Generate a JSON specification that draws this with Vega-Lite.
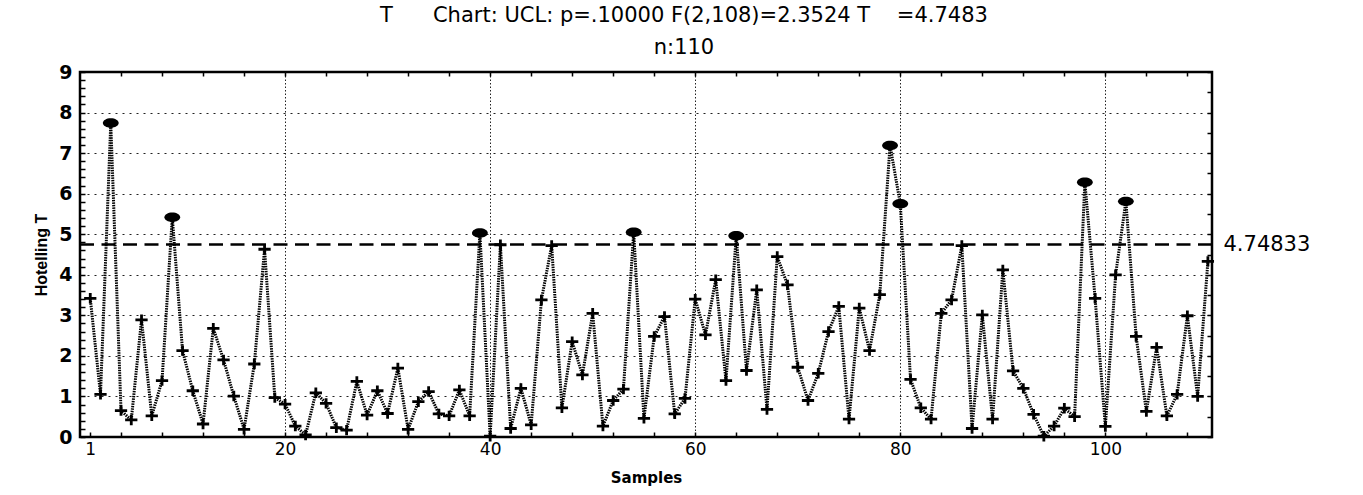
{
  "$schema": "https://vega.github.io/schema/vega-lite/v6.json",
  "width": 1132,
  "height": 365,
  "autosize": {"type": "none"},
  "padding": {"left": 80, "top": 72, "right": 151, "bottom": 58},
  "background": "white",
  "title": {
    "text": ["T\u00a0\u00a0\u00a0\u00a0\u00a0\u00a0Chart: UCL: p=.10000 F(2,108)=2.3524 T\u00a0\u00a0\u00a0\u00a0=4.7483", "n:110"],
    "font": "DejaVu Sans",
    "fontSize": 21,
    "fontWeight": "normal",
    "lineHeight": 32,
    "anchor": "middle",
    "dx": 38,
    "offset": 3,
    "color": "black"
  },
  "config": {
    "view": {"stroke": "black", "strokeWidth": 2.5},
    "axis": {"labelColor": "black", "titleColor": "black", "tickColor": "black"}
  },
  "datasets": {
    "t2": [
      {"sample": 1, "T2": 3.42}, {"sample": 2, "T2": 1.05}, {"sample": 3, "T2": 7.74}, {"sample": 4, "T2": 0.65}, {"sample": 5, "T2": 0.42},
      {"sample": 6, "T2": 2.89}, {"sample": 7, "T2": 0.52}, {"sample": 8, "T2": 1.39}, {"sample": 9, "T2": 5.42}, {"sample": 10, "T2": 2.13},
      {"sample": 11, "T2": 1.14}, {"sample": 12, "T2": 0.32}, {"sample": 13, "T2": 2.68}, {"sample": 14, "T2": 1.9}, {"sample": 15, "T2": 1.01},
      {"sample": 16, "T2": 0.19}, {"sample": 17, "T2": 1.8}, {"sample": 18, "T2": 4.63}, {"sample": 19, "T2": 0.97}, {"sample": 20, "T2": 0.81},
      {"sample": 21, "T2": 0.27}, {"sample": 22, "T2": 0.05}, {"sample": 23, "T2": 1.09}, {"sample": 24, "T2": 0.83}, {"sample": 25, "T2": 0.23},
      {"sample": 26, "T2": 0.17}, {"sample": 27, "T2": 1.37}, {"sample": 28, "T2": 0.54}, {"sample": 29, "T2": 1.14}, {"sample": 30, "T2": 0.58},
      {"sample": 31, "T2": 1.7}, {"sample": 32, "T2": 0.19}, {"sample": 33, "T2": 0.87}, {"sample": 34, "T2": 1.12}, {"sample": 35, "T2": 0.57},
      {"sample": 36, "T2": 0.52}, {"sample": 37, "T2": 1.16}, {"sample": 38, "T2": 0.52}, {"sample": 39, "T2": 5.03}, {"sample": 40, "T2": 0.02},
      {"sample": 41, "T2": 4.74}, {"sample": 42, "T2": 0.21}, {"sample": 43, "T2": 1.2}, {"sample": 44, "T2": 0.3}, {"sample": 45, "T2": 3.38},
      {"sample": 46, "T2": 4.72}, {"sample": 47, "T2": 0.72}, {"sample": 48, "T2": 2.35}, {"sample": 49, "T2": 1.53}, {"sample": 50, "T2": 3.05},
      {"sample": 51, "T2": 0.27}, {"sample": 52, "T2": 0.9}, {"sample": 53, "T2": 1.18}, {"sample": 54, "T2": 5.05}, {"sample": 55, "T2": 0.46},
      {"sample": 56, "T2": 2.48}, {"sample": 57, "T2": 2.97}, {"sample": 58, "T2": 0.57}, {"sample": 59, "T2": 0.95}, {"sample": 60, "T2": 3.4},
      {"sample": 61, "T2": 2.52}, {"sample": 62, "T2": 3.88}, {"sample": 63, "T2": 1.39}, {"sample": 64, "T2": 4.96}, {"sample": 65, "T2": 1.64},
      {"sample": 66, "T2": 3.63}, {"sample": 67, "T2": 0.68}, {"sample": 68, "T2": 4.45}, {"sample": 69, "T2": 3.75}, {"sample": 70, "T2": 1.72},
      {"sample": 71, "T2": 0.9}, {"sample": 72, "T2": 1.57}, {"sample": 73, "T2": 2.6}, {"sample": 74, "T2": 3.22}, {"sample": 75, "T2": 0.44},
      {"sample": 76, "T2": 3.18}, {"sample": 77, "T2": 2.13}, {"sample": 78, "T2": 3.51}, {"sample": 79, "T2": 7.19}, {"sample": 80, "T2": 5.75},
      {"sample": 81, "T2": 1.42}, {"sample": 82, "T2": 0.72}, {"sample": 83, "T2": 0.44}, {"sample": 84, "T2": 3.05}, {"sample": 85, "T2": 3.38},
      {"sample": 86, "T2": 4.72}, {"sample": 87, "T2": 0.21}, {"sample": 88, "T2": 3.01}, {"sample": 89, "T2": 0.44}, {"sample": 90, "T2": 4.12},
      {"sample": 91, "T2": 1.63}, {"sample": 92, "T2": 1.2}, {"sample": 93, "T2": 0.56}, {"sample": 94, "T2": 0.02}, {"sample": 95, "T2": 0.27},
      {"sample": 96, "T2": 0.71}, {"sample": 97, "T2": 0.5}, {"sample": 98, "T2": 6.28}, {"sample": 99, "T2": 3.42}, {"sample": 100, "T2": 0.26},
      {"sample": 101, "T2": 4.0}, {"sample": 102, "T2": 5.81}, {"sample": 103, "T2": 2.48}, {"sample": 104, "T2": 0.63}, {"sample": 105, "T2": 2.21},
      {"sample": 106, "T2": 0.52}, {"sample": 107, "T2": 1.05}, {"sample": 108, "T2": 2.99}, {"sample": 109, "T2": 1.0}, {"sample": 110, "T2": 4.33}
    ],
    "ucl": [{"UCL": 4.74833}]
  },
  "resolve": {"axis": {"x": "independent", "y": "independent"}},
  "layer": [
    {
      "data": {"name": "t2"},
      "mark": {"type": "line", "color": "black", "strokeWidth": 3, "strokeDash": [1.5, 1], "clip": true},
      "encoding": {
        "x": {
          "field": "sample", "type": "quantitative",
          "scale": {"domain": [0, 110.4], "nice": false, "zero": false},
          "axis": {
            "orient": "bottom",
            "values": [1, 4, 8, 12, 16, 20, 24, 28, 32, 36, 40, 44, 48, 52, 56, 60, 64, 68, 72, 76, 80, 84, 88, 92, 96, 100, 104, 108],
            "labelExpr": "datum.value === 1 || datum.value % 20 === 0 ? datum.label : ''",
            "labelOverlap": false,
            "labelFlush": false,
            "labelFont": "DejaVu Sans",
            "labelFontSize": 17,
            "labelPadding": 9,
            "tickSize": -5,
            "tickWidth": 1.5,
            "domain": false,
            "grid": true,
            "gridOpacity": {"condition": {"test": "datum.value % 20 === 0", "value": 1}, "value": 0},
            "gridDash": [1.5, 2],
            "gridColor": "#222",
            "gridWidth": 1,
            "title": "Samples",
            "titleFont": "DejaVu Sans",
            "titleFontSize": 15,
            "titleFontWeight": "bold",
            "titlePadding": 13
          }
        },
        "y": {
          "field": "T2", "type": "quantitative",
          "scale": {"domain": [0, 9], "nice": false, "zero": true},
          "axis": {
            "orient": "left",
            "values": [0, 0.2, 0.4, 0.6, 0.8, 1, 1.2, 1.4, 1.6, 1.8, 2, 2.2, 2.4, 2.6, 2.8, 3, 3.2, 3.4, 3.6, 3.8, 4, 4.2, 4.4, 4.6, 4.8, 5, 5.2, 5.4, 5.6, 5.8, 6, 6.2, 6.4, 6.6, 6.8, 7, 7.2, 7.4, 7.6, 7.8, 8, 8.2, 8.4, 8.6, 8.8, 9],
            "labelExpr": "datum.value % 1 === 0 ? format(datum.value, 'd') : ''",
            "labelOverlap": false,
            "labelFlush": false,
            "labelFont": "DejaVu Sans",
            "labelFontWeight": "bold",
            "labelFontSize": 19,
            "labelPadding": 13,
            "tickSize": -5,
            "tickWidth": 1.5,
            "domain": false,
            "grid": true,
            "gridOpacity": {"condition": {"test": "datum.value % 1 === 0 && datum.value > 0 && datum.value < 9", "value": 1}, "value": 0},
            "gridDash": [2, 5],
            "gridColor": "#222",
            "gridWidth": 1,
            "title": "Hotelling T",
            "titleFont": "Liberation Sans",
            "titleFontSize": 16,
            "titleFontWeight": "bold",
            "titlePadding": 9
          }
        }
      }
    },
    {
      "data": {"name": "ucl"},
      "mark": {"type": "rule", "color": "black", "strokeWidth": 2.5, "strokeDash": [14, 7.5]},
      "encoding": {
        "y": {
          "field": "UCL", "type": "quantitative",
          "scale": {"domain": [0, 9], "nice": false, "zero": true},
          "axis": {
            "orient": "right",
            "values": [0, 0.5, 1, 1.5, 2, 2.5, 3, 3.5, 4, 4.5, 4.74833, 5, 5.5, 6, 6.5, 7, 7.5, 8, 8.5, 9],
            "format": ".5f",
            "labelExpr": "datum.value === 4.74833 ? datum.label : ''",
            "labelOverlap": false,
            "labelFlush": false,
            "labelFont": "DejaVu Sans",
            "labelFontSize": 21,
            "labelPadding": 16,
            "tickSize": -5,
            "tickWidth": 1.5,
            "tickOpacity": {"condition": {"test": "datum.value === 4.74833", "value": 0}, "value": 1},
            "domain": false,
            "grid": false,
            "title": null
          }
        }
      }
    },
    {
      "data": {"name": "t2"},
      "transform": [{"filter": "datum.T2 <= 4.74833"}],
      "mark": {"type": "point", "shape": "M-1,0L1,0M0,-0.85L0,0.85", "size": 150, "filled": false, "color": "black", "strokeWidth": 2.8, "opacity": 1},
      "encoding": {
        "x": {
          "field": "sample", "type": "quantitative",
          "scale": {"domain": [0, 110.4], "nice": false, "zero": false},
          "axis": {
            "orient": "top",
            "values": [4, 8, 12, 16, 20, 24, 28, 32, 36, 40, 44, 48, 52, 56, 60, 64, 68, 72, 76, 80, 84, 88, 92, 96, 100, 104, 108],
            "labels": false,
            "tickSize": -4,
            "tickWidth": 1.5,
            "domain": false,
            "grid": false,
            "title": null
          }
        },
        "y": {"field": "T2", "type": "quantitative", "scale": {"domain": [0, 9], "nice": false, "zero": true}, "axis": null}
      }
    },
    {
      "data": {"name": "t2"},
      "transform": [{"filter": "datum.T2 > 4.74833"}],
      "mark": {"type": "point", "shape": "M-1,0A1,0.6 0 1,1 1,0A1,0.6 0 1,1 -1,0Z", "size": 250, "filled": true, "color": "black", "opacity": 1},
      "encoding": {
        "x": {"field": "sample", "type": "quantitative", "scale": {"domain": [0, 110.4], "nice": false, "zero": false}, "axis": null},
        "y": {"field": "T2", "type": "quantitative", "scale": {"domain": [0, 9], "nice": false, "zero": true}, "axis": null}
      }
    }
  ]
}
